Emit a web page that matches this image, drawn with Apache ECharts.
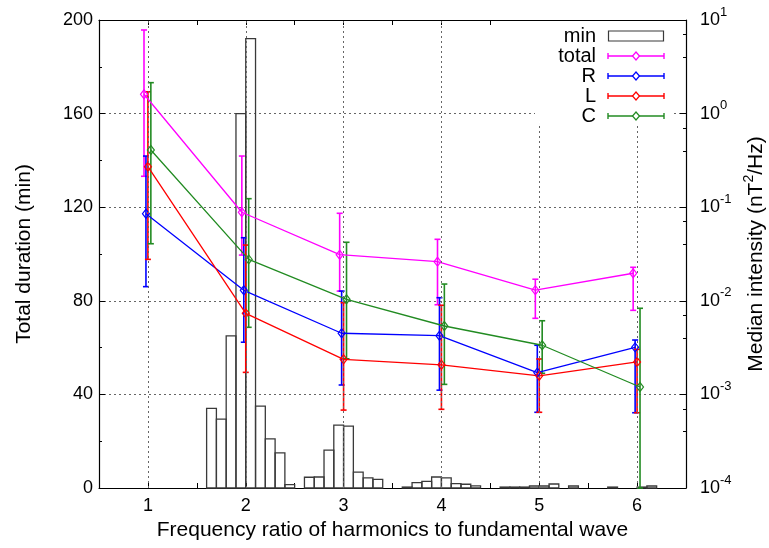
<!DOCTYPE html>
<html>
<head>
<meta charset="utf-8">
<script src="https://cdn.jsdelivr.net/npm/echarts@6/dist/echarts.min.js"></script>
<style>
  html, body { margin: 0; padding: 0; background: #fff; }
  #chart { width: 769px; height: 548px; }
</style>
</head>
<body>
<div id="chart"></div>
<script>
// frequency ratio of harmonics (x axis)
const ratios = [1, 2, 3, 4, 5, 6]

// histogram of total duration (min), bins 0.1 wide
const binWidth = 0.1
const binCenters = [1.65, 1.75, 1.85, 1.95, 2.05, 2.15, 2.25, 2.35, 2.45,
  2.65, 2.75, 2.85, 2.95, 3.05, 3.15, 3.25, 3.35,
  3.65, 3.75, 3.85, 3.95, 4.05, 4.15, 4.25, 4.35,
  4.65, 4.75, 4.85, 4.95, 5.05, 5.15, 5.35, 5.75, 6.05, 6.15]
const minutes = [34, 29.4, 65, 160, 192, 35, 21, 15, 1.4,
  4.6, 4.7, 16.2, 26.9, 26.4, 6.8, 4.3, 3.7,
  0.4, 2.3, 2.8, 4.7, 4.3, 1.9, 1.6, 0.9,
  0.4, 0.4, 0.4, 0.85, 0.85, 1.7, 0.85, 0.4, 0.4, 0.85]

// median intensity (nT^2/Hz) with lower / upper error values
const totalMed = [1.61, 0.0883, 0.0311, 0.0262, 0.0130, 0.0197]
const totalLo = [0.214, 0.0308, 0.0127, 0.00908, 0.0065, 0.00791]
const totalHi = [7.82, 0.352, 0.0861, 0.0454, 0.0170, 0.0228]

const rMed = [0.0853, 0.01294, 0.0045, 0.00424, 0.00171, 0.00318]
const rLo = [0.01416, 0.00361, 0.00126, 0.00111, 0.000644, 0.000637]
const rHi = [0.352, 0.0472, 0.0127, 0.01079, 0.00335, 0.00381]

const lMed = [0.271, 0.00734, 0.00237, 0.00207, 0.00158, 0.00222]
const lLo = [0.0277, 0.00172, 0.00068, 0.000693, 0.000644, 0.000637]
const lHi = [1.71, 0.0394, 0.00955, 0.00896, 0.00239, 0.00303]

const cMed = [0.408, 0.0277, 0.01038, 0.00538, 0.00335, 0.0012]
const cLo = [0.0407, 0.00521, 0.0024, 0.00128, 0.00168, 0.0001]
const cHi = [2.14, 0.1233, 0.0422, 0.0151, 0.00612, 0.00832]

const groups = [
  { name: 'total', color: '#ff00ff', dx: -0.04, med: totalMed, lo: totalLo, hi: totalHi },
  { name: 'R', color: '#0000ff', dx: -0.02, med: rMed, lo: rLo, hi: rHi },
  { name: 'L', color: '#ff0000', dx: 0, med: lMed, lo: lLo, hi: lHi },
  { name: 'C', color: '#228b22', dx: 0.03, med: cMed, lo: cLo, hi: cHi }
]

const FONT = '"Liberation Sans", Arial, sans-serif'
const gridDots = { color: '#666', width: 1, type: [2, 3] }

function histItem(params, api) {
  const x = api.value(0)
  const p0 = api.coord([x - binWidth / 2, 0])
  const p1 = api.coord([x + binWidth / 2, api.value(1)])
  return {
    type: 'rect',
    shape: { x: p0[0], y: p1[1], width: p1[0] - p0[0], height: p0[1] - p1[1] },
    style: { fill: 'none', stroke: '#3a3a3a', lineWidth: 1.3 }
  }
}

function errorBarItem(params, api) {
  const x = api.value(0)
  const lo = api.coord([x, api.value(1)])
  const hi = api.coord([x, api.value(2)])
  const cap = 3
  const style = { stroke: api.visual('color'), lineWidth: 1.6 }
  return {
    type: 'group',
    children: [
      { type: 'line', shape: { x1: lo[0], y1: lo[1], x2: hi[0], y2: hi[1] }, style },
      { type: 'line', shape: { x1: hi[0] - cap, y1: hi[1], x2: hi[0] + cap, y2: hi[1] }, style },
      { type: 'line', shape: { x1: lo[0] - cap, y1: lo[1], x2: lo[0] + cap, y2: lo[1] }, style }
    ]
  }
}

const series = [
  {
    type: 'custom',
    name: 'min',
    xAxisIndex: 0,
    yAxisIndex: 0,
    renderItem: histItem,
    data: binCenters.map((x, i) => [x, minutes[i]]),
    encode: { x: 0, y: 1 },
    silent: true,
    z: 1
  },
  {
    // vertical grid lines at the harmonics
    type: 'line',
    xAxisIndex: 0,
    yAxisIndex: 0,
    data: [],
    silent: true,
    z: 0,
    markLine: {
      silent: true,
      symbol: ['none', 'none'],
      label: { show: false },
      lineStyle: gridDots,
      data: ratios.map(r => ({ xAxis: r }))
    }
  }
]

groups.forEach(g => {
  series.push({
    type: 'line',
    name: g.name,
    xAxisIndex: 0,
    yAxisIndex: 1,
    data: ratios.map((r, i) => [r + g.dx, g.med[i]]),
    symbol: 'diamond',
    symbolSize: [7, 9],
    lineStyle: { color: g.color, width: 1.3 },
    itemStyle: { color: 'rgba(255,255,255,0)', borderColor: g.color, borderWidth: 1.2 },
    silent: true,
    z: 3
  })
  series.push({
    type: 'custom',
    name: g.name + ' err',
    xAxisIndex: 0,
    yAxisIndex: 1,
    renderItem: errorBarItem,
    itemStyle: { color: g.color },
    data: ratios.map((r, i) => [r + g.dx, g.lo[i], g.hi[i]]),
    encode: { x: 0, y: [1, 2] },
    silent: true,
    z: 3
  })
})

// legend drawn by hand (opaque box like gnuplot's key)
const legendRows = ['min', 'total', 'R', 'L', 'C']
const legendGraphics = [{
  type: 'rect',
  shape: { x: 535, y: 21, width: 137, height: 105 },
  style: { fill: '#fff' },
  z: 10
}]
legendRows.forEach((name, i) => {
  const y = 36 + i * 20
  legendGraphics.push({
    type: 'text',
    z: 11,
    style: {
      text: name, x: 596, y: y, font: '20px ' + FONT, fill: '#000',
      align: 'right', verticalAlign: 'middle', textAlign: 'right', textVerticalAlign: 'middle'
    }
  })
  if (i === 0) {
    legendGraphics.push({
      type: 'rect', z: 11,
      shape: { x: 608.5, y: y - 5, width: 55, height: 10 },
      style: { fill: '#fff', stroke: '#3a3a3a', lineWidth: 1.2 }
    })
  } else {
    const c = groups[i - 1].color
    const st = { stroke: c, lineWidth: 1.4 }
    legendGraphics.push(
      { type: 'line', z: 11, shape: { x1: 608, y1: y, x2: 664, y2: y }, style: st },
      { type: 'line', z: 11, shape: { x1: 608, y1: y - 3, x2: 608, y2: y + 3 }, style: st },
      { type: 'line', z: 11, shape: { x1: 664, y1: y - 3, x2: 664, y2: y + 3 }, style: st },
      { type: 'polygon', z: 12, shape: { points: [[636, y - 4], [639.5, y], [636, y + 4], [632.5, y]] },
        style: { fill: '#fff', stroke: c, lineWidth: 1.2 } }
    )
  }
})

const chart = echarts.init(document.getElementById('chart'), null, { renderer: 'canvas' })

const option = {
  animation: false,
  backgroundColor: '#fff',
  textStyle: { fontFamily: FONT, color: '#000' },
  grid: { left: 99, right: 83, top: 20, bottom: 60, containLabel: false, outerBoundsMode: 'none' },
  xAxis: [
    {
      type: 'value',
      position: 'bottom',
      min: 0.5,
      max: 6.5,
      interval: 0.5,
      name: 'Frequency ratio of harmonics to fundamental wave',
      nameLocation: 'middle',
      nameGap: 32,
      nameTextStyle: { fontSize: 21, color: '#000', fontFamily: FONT },
      axisLine: { show: true, onZero: false, lineStyle: { color: '#000', width: 1.2 } },
      axisTick: { show: true, inside: true, length: 5, lineStyle: { color: '#000' } },
      axisLabel: {
        fontSize: 18, color: '#000', margin: 9, fontFamily: FONT,
        formatter: v => (Math.abs(v - Math.round(v)) < 1e-6 ? String(Math.round(v)) : '')
      },
      splitLine: { show: false }
    },
    {
      type: 'value',
      position: 'top',
      min: 0.5,
      max: 6.5,
      interval: 0.5,
      axisLine: { show: true, onZero: false, lineStyle: { color: '#000', width: 1.2 } },
      axisTick: { show: true, inside: true, length: 5, lineStyle: { color: '#000' } },
      axisLabel: { show: false },
      splitLine: { show: false }
    }
  ],
  yAxis: [
    {
      type: 'value',
      position: 'left',
      min: 0,
      max: 200,
      interval: 40,
      name: 'Total duration (min)',
      nameLocation: 'middle',
      nameRotate: 90,
      nameGap: 64,
      nameTextStyle: { fontSize: 21, color: '#000', fontFamily: FONT },
      axisLine: { show: true, onZero: false, lineStyle: { color: '#000', width: 1.2 } },
      axisTick: { show: true, inside: true, length: 6, lineStyle: { color: '#000' } },
      minorTick: { show: true, splitNumber: 2, length: 3, lineStyle: { color: '#000' } },
      axisLabel: { fontSize: 18, color: '#000', margin: 6, fontFamily: FONT },
      splitLine: { show: true, lineStyle: gridDots }
    },
    {
      type: 'log',
      logBase: 10,
      position: 'right',
      min: 0.0001,
      max: 10,
      name: 'Median intensity (nT{sup|2}/Hz)',
      nameLocation: 'middle',
      nameRotate: 90,
      nameGap: 50,
      nameTextStyle: {
        fontSize: 21, color: '#000', fontFamily: FONT,
        rich: { sup: { fontSize: 14, color: '#000', fontFamily: FONT, padding: [0, 0, 14, 0] } }
      },
      axisLine: { show: true, onZero: false, lineStyle: { color: '#000', width: 1.2 } },
      axisTick: { show: true, inside: true, length: 6, lineStyle: { color: '#000' } },
      minorTick: { show: true, splitNumber: 3, length: 3, lineStyle: { color: '#000' } },
      axisLabel: {
        margin: 14,
        formatter: v => '{b|10}{sup|' + Math.round(Math.log10(v)) + '}',
        rich: {
          b: { fontSize: 18, color: '#000', fontFamily: FONT },
          sup: { fontSize: 13, color: '#000', fontFamily: FONT, padding: [0, 0, 16, 0] }
        }
      },
      splitLine: { show: false }
    }
  ],
  graphic: legendGraphics,
  series: series
}

chart.setOption(option)
</script>
</body>
</html>
